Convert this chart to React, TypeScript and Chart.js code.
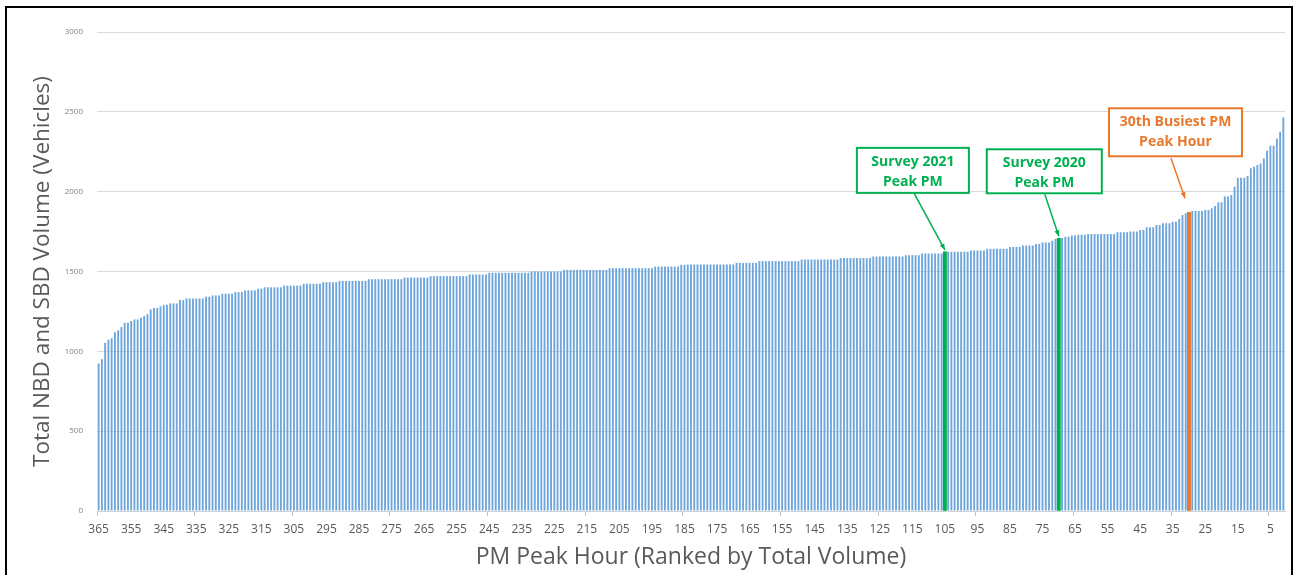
import React, { useEffect, useRef } from 'react';
import { Chart, registerables } from 'chart.js';

Chart.register(...registerables);

// Total NBD + SBD volume for each PM peak hour, from rank 365 (quietest) to rank 1 (busiest)
const volumes: number[] = [
  924, 951, 1053, 1072, 1082, 1120, 1131, 1152, 1179, 1179,
  1190, 1200, 1200, 1211, 1222, 1232, 1262, 1272, 1272, 1281,
  1291, 1291, 1300, 1300, 1300, 1321, 1321, 1331, 1331, 1331,
  1331, 1331, 1331, 1342, 1342, 1350, 1350, 1350, 1361, 1361,
  1361, 1361, 1371, 1371, 1371, 1382, 1382, 1382, 1382, 1392,
  1392, 1401, 1401, 1401, 1401, 1401, 1401, 1411, 1411, 1411,
  1412, 1412, 1412, 1423, 1423, 1423, 1423, 1423, 1423, 1433,
  1433, 1433, 1433, 1433, 1441, 1441, 1441, 1441, 1441, 1441,
  1441, 1441, 1441, 1452, 1452, 1452, 1452, 1452, 1452, 1452,
  1452, 1452, 1452, 1452, 1462, 1462, 1462, 1462, 1462, 1462,
  1462, 1462, 1471, 1471, 1471, 1471, 1471, 1471, 1471, 1471,
  1471, 1471, 1471, 1471, 1481, 1481, 1481, 1481, 1481, 1481,
  1492, 1492, 1492, 1492, 1492, 1492, 1492, 1492, 1492, 1492,
  1492, 1492, 1492, 1500, 1500, 1500, 1500, 1500, 1500, 1500,
  1500, 1500, 1500, 1510, 1510, 1510, 1510, 1510, 1510, 1510,
  1510, 1510, 1510, 1510, 1510, 1510, 1510, 1521, 1521, 1521,
  1521, 1521, 1521, 1521, 1521, 1521, 1521, 1521, 1521, 1521,
  1521, 1531, 1531, 1531, 1531, 1531, 1531, 1531, 1531, 1542,
  1542, 1544, 1544, 1544, 1544, 1544, 1544, 1544, 1544, 1544,
  1544, 1544, 1544, 1544, 1544, 1544, 1554, 1554, 1554, 1554,
  1554, 1554, 1554, 1565, 1565, 1565, 1565, 1565, 1565, 1565,
  1565, 1565, 1565, 1565, 1565, 1565, 1575, 1575, 1575, 1575,
  1575, 1575, 1575, 1575, 1575, 1575, 1575, 1575, 1584, 1584,
  1584, 1584, 1584, 1584, 1584, 1584, 1584, 1584, 1594, 1594,
  1594, 1594, 1594, 1594, 1594, 1594, 1594, 1594, 1602, 1602,
  1602, 1602, 1602, 1613, 1613, 1613, 1613, 1613, 1613, 1613,
  1623, 1623, 1623, 1623, 1623, 1623, 1623, 1623, 1632, 1632,
  1632, 1632, 1632, 1642, 1642, 1642, 1642, 1642, 1642, 1642,
  1653, 1653, 1653, 1653, 1663, 1663, 1663, 1663, 1673, 1673,
  1682, 1682, 1682, 1692, 1703, 1708, 1710, 1718, 1718, 1725,
  1725, 1730, 1730, 1730, 1735, 1735, 1735, 1735, 1735, 1735,
  1735, 1735, 1735, 1746, 1746, 1746, 1746, 1750, 1750, 1750,
  1760, 1760, 1777, 1777, 1777, 1792, 1792, 1802, 1802, 1802,
  1812, 1812, 1829, 1854, 1865, 1871, 1879, 1879, 1879, 1879,
  1885, 1885, 1896, 1910, 1933, 1933, 1969, 1969, 1979, 2031,
  2087, 2087, 2087, 2098, 2146, 2156, 2167, 2177, 2208, 2256,
  2287, 2287, 2333, 2375, 2465,
];

// Category labels: hour rank, 365 down to 1
const ranks: number[] = volumes.map((_, i) => volumes.length - i);

// Highlighted hours
const survey2021Rank = 105;
const survey2020Rank = 70;
const busiest30Rank = 30;
const highlightRanks: number[] = [survey2021Rank, survey2020Rank, busiest30Rank];

const yTickValues: number[] = [0, 500, 1000, 1500, 2000, 2500, 3000];

const GREEN = '#00B050';
const ORANGE = '#E8782F';
const BLUE = '#6EA6DB';

type Callout = {
  rank: number;
  lines: string[];
  color: string;
  box: { dx: number; dy: number; w: number; h: number };
  arrowFrom: [number, number];
  arrowTo: [number, number];
};

const callouts: Callout[] = [
  {
    rank: survey2021Rank,
    lines: ['Survey 2021', 'Peak PM'],
    color: GREEN,
    box: { dx: -88, dy: -104, w: 112, h: 45 },
    arrowFrom: [-31, -59],
    arrowTo: [0, -2],
  },
  {
    rank: survey2020Rank,
    lines: ['Survey 2020', 'Peak PM'],
    color: GREEN,
    box: { dx: -72, dy: -89, w: 115, h: 44 },
    arrowFrom: [-14, -44],
    arrowTo: [0, -2],
  },
  {
    rank: busiest30Rank,
    lines: ['30th Busiest PM', 'Peak Hour'],
    color: ORANGE,
    box: { dx: -80, dy: -104, w: 133, h: 48 },
    arrowFrom: [-18, -54],
    arrowTo: [-4, -14],
  },
];

const calloutPlugin = {
  id: 'callouts',
  afterDatasetsDraw(chart: any) {
    const ctx: CanvasRenderingContext2D = chart.ctx;
    const xs = chart.scales.x;
    const ys = chart.scales.y;
    ctx.save();
    callouts.forEach((c) => {
      const idx = ranks.indexOf(c.rank);
      const bx = xs.getPixelForValue(idx);
      const by = ys.getPixelForValue(volumes[idx]);
      // arrow
      const x0 = bx + c.arrowFrom[0];
      const y0 = by + c.arrowFrom[1];
      const x1 = bx + c.arrowTo[0];
      const y1 = by + c.arrowTo[1];
      ctx.strokeStyle = c.color;
      ctx.fillStyle = c.color;
      ctx.lineWidth = 1.5;
      ctx.beginPath();
      ctx.moveTo(x0, y0);
      ctx.lineTo(x1, y1);
      ctx.stroke();
      const ang = Math.atan2(y1 - y0, x1 - x0);
      const hl = 6;
      const hw = 2.5;
      ctx.beginPath();
      ctx.moveTo(x1, y1);
      ctx.lineTo(x1 - hl * Math.cos(ang) + hw * Math.sin(ang), y1 - hl * Math.sin(ang) - hw * Math.cos(ang));
      ctx.lineTo(x1 - hl * Math.cos(ang) - hw * Math.sin(ang), y1 - hl * Math.sin(ang) + hw * Math.cos(ang));
      ctx.closePath();
      ctx.fill();
      // box
      const left = bx + c.box.dx;
      const top = by + c.box.dy;
      ctx.fillStyle = '#ffffff';
      ctx.fillRect(left, top, c.box.w, c.box.h);
      ctx.lineWidth = 2;
      ctx.strokeStyle = c.color;
      ctx.strokeRect(left, top, c.box.w, c.box.h);
      // text
      ctx.fillStyle = c.color;
      ctx.font = 'bold 14px "Open Sans", sans-serif';
      ctx.textAlign = 'center';
      ctx.textBaseline = 'middle';
      c.lines.forEach((line, li) => {
        ctx.fillText(line, left + c.box.w / 2, top + 14 + li * 20);
      });
    });
    ctx.restore();
  },
};

export default function App() {
  const ref = useRef<HTMLCanvasElement>(null);

  useEffect(() => {
    if (!ref.current) return;
    const chart = new Chart(ref.current, {
      type: 'bar',
      data: {
        labels: ranks.map(String),
        datasets: [
          {
            label: 'Highlighted hours',
            data: volumes.map((v, i) => (highlightRanks.includes(ranks[i]) ? v : null)),
            backgroundColor: ranks.map((r) => (r === busiest30Rank ? ORANGE : GREEN)),
            barPercentage: 1,
            categoryPercentage: 1,
            grouped: false,
            order: 0,
          } as any,
          {
            label: 'Total volume',
            data: volumes,
            backgroundColor: BLUE,
            barPercentage: 0.58,
            categoryPercentage: 1,
            grouped: false,
            order: 1,
          } as any,
        ],
      },
      options: {
        responsive: false,
        animation: false,
        devicePixelRatio: 1,
        layout: { padding: { top: 32, right: 12, left: 0, bottom: 0 } },
        plugins: {
          legend: { display: false },
          tooltip: { enabled: false },
        },
        scales: {
          x: {
            grid: {
              offset: true,
              drawOnChartArea: false,
              drawTicks: true,
              tickLength: 5,
              lineWidth: 1,
              color: (c: any) => (c.index % 30 === 0 ? '#bfbfbf' : 'rgba(0,0,0,0)'),
            },
            border: { display: true, color: '#d0d0d0' },
            ticks: {
              autoSkip: false,
              maxRotation: 0,
              minRotation: 0,
              padding: 6,
              color: '#595959',
              font: { family: '"Open Sans", sans-serif', size: 12 },
              callback: (_v: any, i: number) => (ranks[i] % 10 === 5 ? String(ranks[i]) : ''),
            },
            title: {
              display: true,
              text: 'PM Peak Hour (Ranked by Total Volume)',
              color: '#595959',
              font: { family: '"Open Sans", sans-serif', size: 23, lineHeight: '36px' } as any,
              padding: 0,
            },
            afterFit: (s: any) => {
              s.height = 64;
            },
          },
          y: {
            min: 0,
            max: 3000,
            afterBuildTicks: (s: any) => {
              s.ticks = yTickValues.map((v) => ({ value: v }));
            },
            ticks: {
              padding: 14,
              color: '#808080',
              font: { family: '"Open Sans", sans-serif', size: 8 },
              callback: (v: any) => String(v),
            },
            grid: { color: '#d9d9d9', drawTicks: false, lineWidth: 1 },
            border: { display: false },
            title: {
              display: true,
              text: 'Total NBD and SBD Volume (Vehicles)',
              color: '#595959',
              font: { family: '"Open Sans", sans-serif', size: 22.5, lineHeight: '86px' } as any,
              padding: 0,
            },
            afterFit: (s: any) => {
              s.width = 97;
            },
          },
        },
      } as any,
      plugins: [calloutPlugin],
    });
    return () => chart.destroy();
  }, []);

  return (
    <div
      style={{
        position: 'absolute',
        left: 0,
        top: 0,
        width: 1297,
        height: 575,
        overflow: 'hidden',
        background: '#ffffff',
      }}
    >
      <canvas
        ref={ref}
        width={1297}
        height={575}
        style={{ position: 'absolute', left: 0, top: 0, width: 1297, height: 575 }}
      />
      <div
        style={{
          position: 'absolute',
          left: 5,
          top: 6,
          width: 1284,
          height: 620,
          border: '2px solid #000000',
          pointerEvents: 'none',
        }}
      />
    </div>
  );
}
